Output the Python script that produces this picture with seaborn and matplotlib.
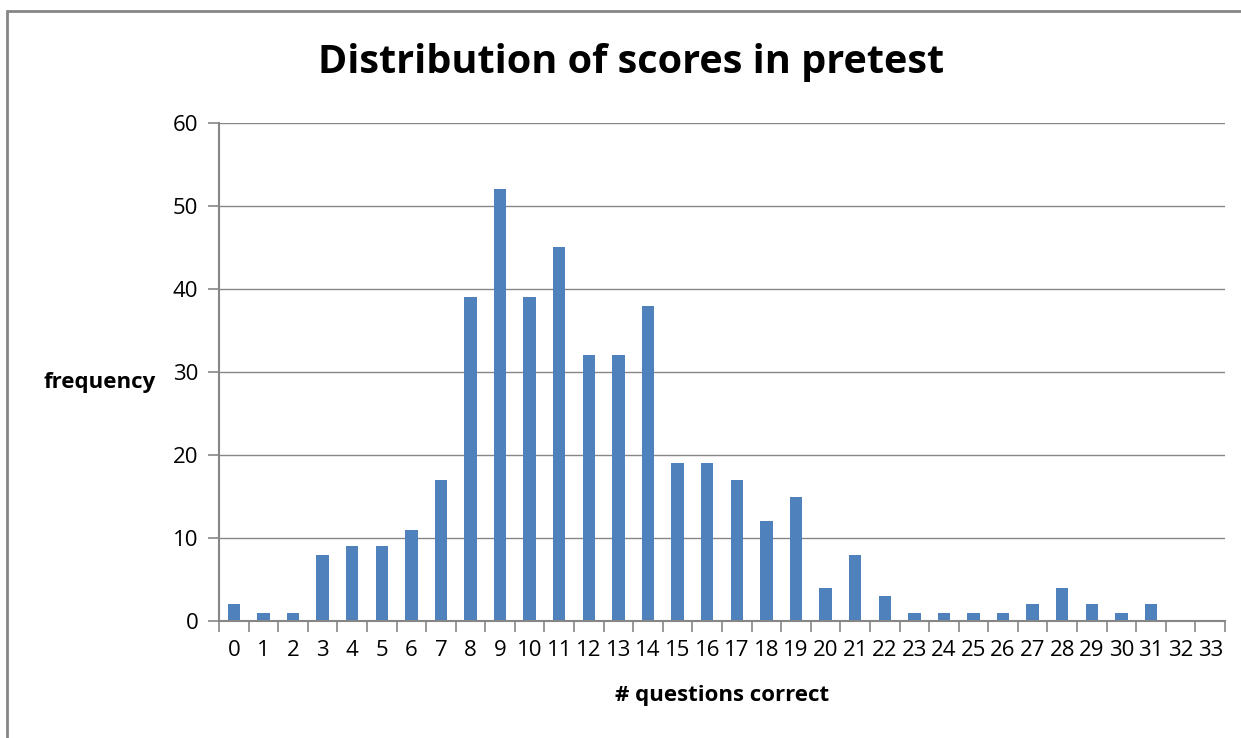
import numpy as np
import pandas as pd
import matplotlib
matplotlib.use("Agg")
import matplotlib.pyplot as plt
from matplotlib.patches import Rectangle
from matplotlib.ticker import FixedLocator
import seaborn as sns

# Data
scores = [str(i) for i in range(34)]
frequency = [2, 1, 1, 8, 9, 9, 11, 17, 39, 52, 39, 45, 32, 32, 38, 19,
             19, 17, 12, 15, 4, 8, 3, 1, 1, 1, 1, 2, 4, 2, 1, 2, 0, 0]
y_ticks = [0, 10, 20, 30, 40, 50, 60]

BAR_COLOR = "#4F81BD"
AXIS_GRAY = "#868686"

sns.set_theme(style="white")
plt.rcParams['font.family'] = ['Open Sans', 'DejaVu Sans']
plt.rcParams['text.color'] = 'black'
plt.rcParams['xtick.labelcolor'] = 'black'
plt.rcParams['ytick.labelcolor'] = 'black'

df = pd.DataFrame({'score': scores, 'frequency': frequency})

fig = plt.figure(figsize=(12.41, 7.38), dpi=100)
ax = fig.add_axes([219 / 1241, 1 - 621 / 738, (1225 - 219) / 1241, (621 - 123) / 738])

sns.barplot(data=df, x='score', y='frequency', order=scores, color=BAR_COLOR,
            width=0.42, saturation=1, linewidth=0, ax=ax)

ax.set_xlim(-0.5, len(scores) - 0.5)
ax.set_ylim(0, 60)
ax.set_yticks(y_ticks)
ax.yaxis.grid(True, color=AXIS_GRAY, linewidth=1)
ax.set_axisbelow(True)

# Excel-style ticks between categories
ax.xaxis.set_minor_locator(FixedLocator(np.arange(-0.5, len(scores), 1.0)))
ax.tick_params(axis='x', which='major', length=0, pad=14, labelsize=16)
ax.tick_params(axis='x', which='minor', length=8, width=1.2, color=AXIS_GRAY, bottom=True)
ax.tick_params(axis='y', length=8, width=1.2, color=AXIS_GRAY, pad=7, labelsize=16, left=True)

for side in ['top', 'right']:
    ax.spines[side].set_visible(False)
for side in ['left', 'bottom']:
    ax.spines[side].set_color(AXIS_GRAY)
    ax.spines[side].set_linewidth(1.5)

ax.set_xlabel('')
ax.set_ylabel('')

fig.text(631 / 1241, 1 - 62 / 738, 'Distribution of scores in pretest',
         ha='center', va='center', fontsize=28.5, fontweight='bold')
fig.text(100 / 1241, 1 - 382 / 738, 'frequency', ha='center', va='center',
         fontsize=16, fontweight='bold')
fig.text(722 / 1241, 1 - 695 / 738, '# questions correct', ha='center', va='center',
         fontsize=16, fontweight='bold')

# outer chart frame
fig.patches.append(Rectangle((7 / 1241, -0.1), 1.2, 1 - 11 / 738 + 0.1,
                             transform=fig.transFigure, fill=False,
                             edgecolor=AXIS_GRAY, linewidth=2))

fig.savefig('out.png', dpi=100)
